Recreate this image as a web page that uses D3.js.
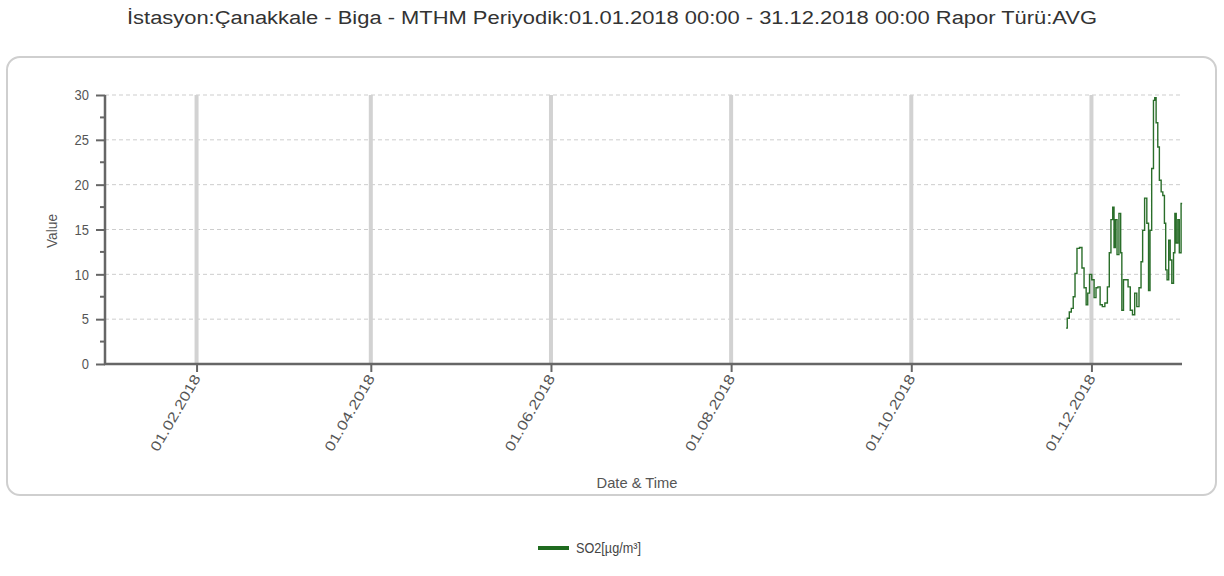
<!DOCTYPE html>
<html>
<head>
<meta charset="utf-8">
<script src="https://cdn.jsdelivr.net/npm/d3@7"></script>
<style>
  html, body { margin: 0; padding: 0; background: #fff; }
  svg { display: block; font-family: "Liberation Sans", Arial, sans-serif; }
</style>
</head>
<body>
<svg id="chart" width="1224" height="576"></svg>
<script>
const titleText = "İstasyon:Çanakkale - Biga - MTHM Periyodik:01.01.2018 00:00 - 31.12.2018 00:00 Rapor Türü:AVG";
const seriesName = "SO2[µg/m³]";
const xTickLabels = ["01.02.2018", "01.04.2018", "01.06.2018", "01.08.2018", "01.10.2018", "01.12.2018"];
const yTicks = [0, 5, 10, 15, 20, 25, 30];

const times = [
  "2018-11-22T10:00", "2018-11-23T05:00", "2018-11-23T19:00", "2018-11-24T14:00", "2018-11-25T02:00",
  "2018-11-25T19:00", "2018-11-26T10:00", "2018-11-27T12:00", "2018-11-28T02:00", "2018-11-28T22:00",
  "2018-11-29T12:00", "2018-11-30T00:00", "2018-11-30T17:00", "2018-12-01T12:00", "2018-12-02T07:00",
  "2018-12-02T19:00", "2018-12-03T14:00", "2018-12-04T07:00", "2018-12-05T02:00", "2018-12-06T00:00",
  "2018-12-06T19:00", "2018-12-07T07:00", "2018-12-07T22:00", "2018-12-08T12:00", "2018-12-08T19:00",
  "2018-12-09T10:00", "2018-12-09T22:00", "2018-12-10T17:00", "2018-12-11T02:00", "2018-12-11T12:00",
  "2018-12-12T05:00", "2018-12-13T00:00", "2018-12-13T19:00", "2018-12-14T12:00", "2018-12-15T07:00",
  "2018-12-16T00:00", "2018-12-16T17:00", "2018-12-17T12:00", "2018-12-18T02:00", "2018-12-18T14:00",
  "2018-12-19T10:00", "2018-12-20T02:00", "2018-12-20T14:00", "2018-12-21T02:00", "2018-12-21T17:00",
  "2018-12-22T07:00", "2018-12-22T14:00", "2018-12-23T05:00", "2018-12-23T17:00", "2018-12-24T07:00",
  "2018-12-24T22:00", "2018-12-25T10:00", "2018-12-26T00:00", "2018-12-26T07:00", "2018-12-26T22:00",
  "2018-12-27T10:00", "2018-12-27T22:00", "2018-12-28T12:00", "2018-12-29T02:00", "2018-12-29T10:00",
  "2018-12-30T00:00", "2018-12-30T12:00", "2018-12-31T00:00", "2018-12-31T17:00"
];
const so2 = [
  4.0, 5.1, 5.8, 6.2, 7.5,
  10.1, 12.9, 13.0, 10.7, 8.5,
  6.6, 7.9, 10.0, 9.4, 7.4,
  8.5, 8.6, 6.6, 6.4, 6.8,
  8.6, 12.4, 16.1, 17.5, 13.0,
  16.1, 12.2, 16.8, 12.4, 6.0,
  9.4, 9.4, 8.6, 6.0, 5.5,
  7.9, 6.4, 8.5, 11.4, 14.9,
  18.5, 15.7, 8.2, 14.9, 21.8,
  29.4, 29.7, 26.9, 24.2, 20.5,
  19.2, 18.8, 15.7, 10.5, 9.4,
  13.8, 11.6, 9.0, 12.4, 16.8,
  13.5, 16.1, 12.4, 17.9
];

const svg = d3.select("#chart");
const parseT = d3.timeParse("%Y-%m-%dT%H:%M");
const parseD = d3.timeParse("%d.%m.%Y");
const data = times.map((t, i) => ({ t: parseT(t), v: so2[i] }));

const pL = 105, pR = 1183, pT = 95, pB = 364;
const x = d3.scaleTime().domain([new Date(2018, 0, 1), new Date(2019, 0, 1)]).range([pL, pR]);
const y = d3.scaleLinear().domain([0, 30]).range([pB, pT]);
const axisEnd = 1182;

// Title
svg.append("text")
  .attr("x", 612).attr("y", 24)
  .attr("text-anchor", "middle")
  .attr("font-size", 18)
  .attr("fill", "#333")
  .attr("textLength", 970)
  .attr("lengthAdjust", "spacingAndGlyphs")
  .text(titleText);

// Panel
svg.append("rect")
  .attr("x", 7).attr("y", 57).attr("width", 1209).attr("height", 438)
  .attr("rx", 13).attr("ry", 13)
  .attr("fill", "#fff").attr("stroke", "#cfcfcf").attr("stroke-width", 2);

// Horizontal dashed gridlines
svg.append("g").selectAll("line").data(yTicks.filter(d => d > 0)).join("line")
  .attr("x1", pL).attr("x2", axisEnd)
  .attr("y1", d => y(d)).attr("y2", d => y(d))
  .attr("stroke", "#cdcdcd").attr("stroke-width", 1)
  .attr("stroke-dasharray", "4,3");

// Vertical gridlines
const xTickDates = xTickLabels.map(parseD);
svg.append("g").selectAll("line").data(xTickDates).join("line")
  .attr("x1", d => x(d)).attr("x2", d => x(d))
  .attr("y1", pT).attr("y2", pB)
  .attr("stroke", "#d2d2d2").attr("stroke-width", 4);

// Y axis
const yAxis = d3.axisLeft(y).tickValues(yTicks).tickSize(9).tickPadding(7);
const gy = svg.append("g").attr("transform", `translate(${pL},0)`).call(yAxis);
gy.select(".domain").remove();
gy.selectAll(".tick line").attr("stroke", "#666").attr("stroke-width", 2);
gy.selectAll(".tick text").attr("font-size", 15).attr("fill", "#555")
  .attr("font-family", "Liberation Sans, Arial, sans-serif")
  .attr("textLength", d => String(d).length * 7.2)
  .attr("lengthAdjust", "spacingAndGlyphs");
// minor ticks
const minor = d3.range(2.5, 30, 5);
svg.append("g").selectAll("line").data(minor).join("line")
  .attr("x1", pL - 5).attr("x2", pL)
  .attr("y1", d => y(d)).attr("y2", d => y(d))
  .attr("stroke", "#666").attr("stroke-width", 2);
svg.append("line")
  .attr("x1", pL).attr("x2", pL).attr("y1", pT).attr("y2", pB + 1)
  .attr("stroke", "#666").attr("stroke-width", 2.5);

// X axis
const xAxis = d3.axisBottom(x).tickValues(xTickDates).tickSize(8).tickFormat((d, i) => xTickLabels[i]);
const gx = svg.append("g").attr("transform", `translate(0,${pB})`).call(xAxis);
gx.select(".domain").remove();
gx.selectAll(".tick line").attr("stroke", "#666").attr("stroke-width", 2);
gx.selectAll(".tick text")
  .attr("font-size", 14).attr("fill", "#555")
  .attr("font-family", "Liberation Sans, Arial, sans-serif")
  .attr("text-anchor", "end")
  .attr("dy", null).attr("y", 0)
  .attr("transform", "translate(4,14) rotate(-60)")
  .attr("textLength", 86).attr("lengthAdjust", "spacingAndGlyphs");
svg.append("line")
  .attr("x1", pL - 1).attr("x2", axisEnd).attr("y1", pB).attr("y2", pB)
  .attr("stroke", "#666").attr("stroke-width", 2.5);

// Axis titles
svg.append("text")
  .attr("transform", `translate(57,231) rotate(-90)`)
  .attr("text-anchor", "middle").attr("font-size", 14).attr("fill", "#555")
  .attr("textLength", 34).attr("lengthAdjust", "spacingAndGlyphs")
  .text("Value");
svg.append("text")
  .attr("x", 637).attr("y", 488)
  .attr("text-anchor", "middle").attr("font-size", 15).attr("fill", "#555")
  .attr("textLength", 81).attr("lengthAdjust", "spacingAndGlyphs")
  .text("Date & Time");

// Series line
const line = d3.line().x(d => x(d.t)).y(d => y(d.v)).curve(d3.curveStep);
svg.append("path").datum(data)
  .attr("d", line)
  .attr("fill", "none")
  .attr("stroke", "#2a6e2a").attr("stroke-width", 1.4)
  .attr("stroke-linejoin", "miter");

// Legend
svg.append("line")
  .attr("x1", 538).attr("x2", 569).attr("y1", 548).attr("y2", 548)
  .attr("stroke", "#1f6b1f").attr("stroke-width", 4);
svg.append("text")
  .attr("x", 576).attr("y", 553)
  .attr("font-size", 15).attr("fill", "#444")
  .attr("textLength", 65).attr("lengthAdjust", "spacingAndGlyphs")
  .text(seriesName);
</script>
</body>
</html>
